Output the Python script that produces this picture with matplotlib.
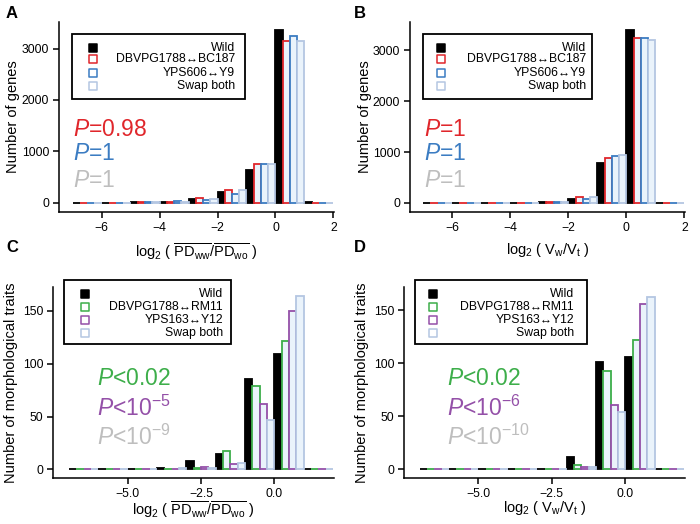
import matplotlib
matplotlib.use("Agg")
import matplotlib.pyplot as plt
import numpy as np
from matplotlib.patches import Rectangle

plt.rcParams["font.family"] = ["Liberation Sans", "DejaVu Sans"]
plt.rcParams["mathtext.fontset"] = "custom"
plt.rcParams["mathtext.rm"] = "Liberation Sans"
plt.rcParams["mathtext.it"] = "Liberation Sans:italic"
plt.rcParams["mathtext.bf"] = "Liberation Sans:bold"

# histogram bins: left edges, width 1
bin_edges = [-7, -6, -5, -4, -3, -2, -1, 0, 1]

# panel A: log2(PDww/PDwo), genes
a_wild = [2, 3, 7, 20, 65, 207, 628, 3365, 5]
a_red = [1, 2, 6, 18, 97, 246, 762, 3150, 1]
a_blue = [1, 2, 5, 25, 52, 178, 762, 3240, 1]
a_light = [1, 2, 5, 20, 78, 253, 762, 3150, 1]

# panel B: log2(Vw/Vt), genes
b_wild = [3, 3, 4, 5, 20, 79, 795, 3393, 5]
b_red = [2, 3, 4, 6, 25, 124, 891, 3236, 1]
b_blue = [2, 3, 4, 6, 25, 79, 930, 3236, 1]
b_light = [2, 3, 4, 5, 20, 118, 943, 3197, 1]

# panel C: log2(PDww/PDwo), morphological traits
c_wild = [0, 0, 0, 1, 8, 15, 86, 109, 0]
c_green = [0, 0, 0, 0, 1, 17, 79, 122, 0]
c_purple = [0, 0, 0, 0, 2, 5, 62, 150, 0]
c_light = [0, 0, 0, 1, 1, 6, 47, 164, 0]

# panel D: log2(Vw/Vt), morphological traits
d_wild = [0, 0, 0, 0, 0, 12, 101, 106, 0]
d_green = [0, 0, 0, 0, 0, 4, 93, 122, 0]
d_purple = [0, 0, 0, 0, 0, 2, 61, 156, 0]
d_light = [0, 0, 0, 0, 0, 2, 54, 163, 0]

labels_top = ["Wild", "DBVPG1788\u2194BC187", "YPS606\u2194Y9", "Swap both"]
labels_bot = ["Wild", "DBVPG1788\u2194RM11", "YPS163\u2194Y12", "Swap both"]
p_top_a = [r"$P$=0.98", r"$P$=1", r"$P$=1"]
p_top_b = [r"$P$=1", r"$P$=1", r"$P$=1"]
p_bot_c = [r"$P$<0.02", r"$P$<10$^{-5}$", r"$P$<10$^{-9}$"]
p_bot_d = [r"$P$<0.02", r"$P$<10$^{-6}$", r"$P$<10$^{-10}$"]

RED = "#E0262B"
BLUE = "#3B7CC2"
LIGHT = "#B4C6E2"
GREEN = "#3DAE4A"
PURPLE = "#9450A8"
GREY = "#BEBEBE"
FILL = "#EAF3FB"

xlab_pd = r"$\mathrm{log_2}$ ( $\overline{\mathrm{PD_{ww}}}/\overline{\mathrm{PD_{wo}}}$ )"
xlab_v = r"$\mathrm{log_2}$ ( $\mathrm{V_w/V_t}$ )"

fig = plt.figure(figsize=(7.0, 5.24), dpi=100)


def draw_panel(rect, series, colors, labels, ptexts, pcolors, xlim, ylim,
               xticks, xticklabels, yticks, xlabel, ylabel, ylab_x, xlab_y,
               legend_box, marker_x, text_x, rows, p_x, p_rows):
    ax = fig.add_axes(rect)
    edges = np.array(bin_edges, dtype=float)
    for i, (vals, col) in enumerate(zip(series, colors)):
        face = "black" if i == 0 else FILL
        ax.bar(edges + 0.25 * i, vals, width=0.25, align="edge",
               facecolor=face, edgecolor=col, linewidth=1.3, zorder=2)
    ax.set_xlim(*xlim)
    ax.set_ylim(*ylim)
    ax.set_xticks(xticks)
    ax.set_xticklabels(xticklabels)
    ax.set_yticks(yticks)
    ax.spines[["top", "right"]].set_visible(False)
    ax.spines[["left", "bottom"]].set_linewidth(1.1)
    ax.tick_params(direction="out", length=4, width=1.1, labelsize=8.8, pad=3)
    ax.set_xlabel(xlabel, fontsize=10.5)
    ax.set_ylabel(ylabel, fontsize=10.5)
    ax.yaxis.set_label_coords(ylab_x, 0.5)
    ax.xaxis.set_label_coords(0.5, xlab_y)

    # legend drawn R-style: marker on the left, text right-justified
    x0, y0, x1, y1 = legend_box
    ax.add_patch(Rectangle((x0, y0), x1 - x0, y1 - y0, transform=ax.transAxes,
                           facecolor="white", edgecolor="black", linewidth=1.3,
                           clip_on=False, zorder=5))
    for i, (lab, col, ry) in enumerate(zip(labels, colors, rows)):
        face = "black" if i == 0 else "white"
        ax.scatter([marker_x], [ry], s=30, marker="s", facecolor=face,
                   edgecolor=col, linewidth=1.1, transform=ax.transAxes,
                   clip_on=False, zorder=6)
        ax.text(text_x, ry, lab, transform=ax.transAxes, ha="right",
                va="center", fontsize=8.8, zorder=6)

    for txt, col, ry in zip(ptexts, pcolors, p_rows):
        ax.text(p_x, ry, txt, transform=ax.transAxes, ha="left", va="center",
                fontsize=16.5, color=col)
    return ax


top_rows = [0.865, 0.803, 0.733, 0.663]
bot_rows = [0.963, 0.897, 0.827, 0.758]

draw_panel([59 / 700, 1 - 212 / 524, 275 / 700, 190 / 524],
           [a_wild, a_red, a_blue, a_light], ["black", RED, BLUE, LIGHT],
           labels_top, p_top_a, [RED, BLUE, GREY],
           (-7.47, 2.02), (-180, 3517), [-6, -4, -2, 0, 2],
           ["\u22126", "\u22124", "\u22122", "0", "2"], [0, 1000, 2000, 3000],
           xlab_pd, "Number of genes", -0.14, -0.155,
           (0.046, 0.595, 0.676, 0.935), 0.124, 0.64, top_rows,
           0.051, [0.432, 0.31, 0.168])

draw_panel([410 / 700, 1 - 212 / 524, 275 / 700, 190 / 524],
           [b_wild, b_red, b_blue, b_light], ["black", RED, BLUE, LIGHT],
           labels_top, p_top_b, [RED, BLUE, GREY],
           (-7.45, 2.02), (-177, 3557), [-6, -4, -2, 0, 2],
           ["\u22126", "\u22124", "\u22122", "0", "2"], [0, 1000, 2000, 3000],
           xlab_v, "Number of genes", -0.14, -0.155,
           (0.046, 0.595, 0.662, 0.935), 0.112, 0.64, top_rows,
           0.051, [0.432, 0.31, 0.168])

draw_panel([53 / 700, 1 - 478 / 524, 281 / 700, 191 / 524],
           [c_wild, c_green, c_purple, c_light], ["black", GREEN, PURPLE, LIGHT],
           labels_bot, p_bot_c, [GREEN, PURPLE, GREY],
           (-7.55, 2.03), (-8.2, 172.7), [-5.0, -2.5, 0.0],
           ["\u22125.0", "\u22122.5", "0.0"], [0, 50, 100, 150],
           xlab_pd, "Number of morphological traits", -0.125, -0.11,
           (0.038, 0.70, 0.633, 1.037), 0.113, 0.605, bot_rows,
           0.155, [0.52, 0.363, 0.215])

draw_panel([404 / 700, 1 - 478 / 524, 281 / 700, 191 / 524],
           [d_wild, d_green, d_purple, d_light], ["black", GREEN, PURPLE, LIGHT],
           labels_bot, p_bot_d, [GREEN, PURPLE, GREY],
           (-7.53, 2.03), (-8.2, 172.0), [-5.0, -2.5, 0.0],
           ["\u22125.0", "\u22122.5", "0.0"], [0, 50, 100, 150],
           xlab_v, "Number of morphological traits", -0.125, -0.11,
           (0.039, 0.70, 0.651, 1.037), 0.104, 0.605, bot_rows,
           0.154, [0.52, 0.363, 0.215])

for letter, px, py in [("A", 12, 13), ("B", 360, 13), ("C", 12, 247), ("D", 360, 247)]:
    fig.text(px / 700, 1 - py / 524, letter, ha="center", va="center",
             fontsize=12, fontweight="bold")

fig.savefig("out.png", dpi=100)
